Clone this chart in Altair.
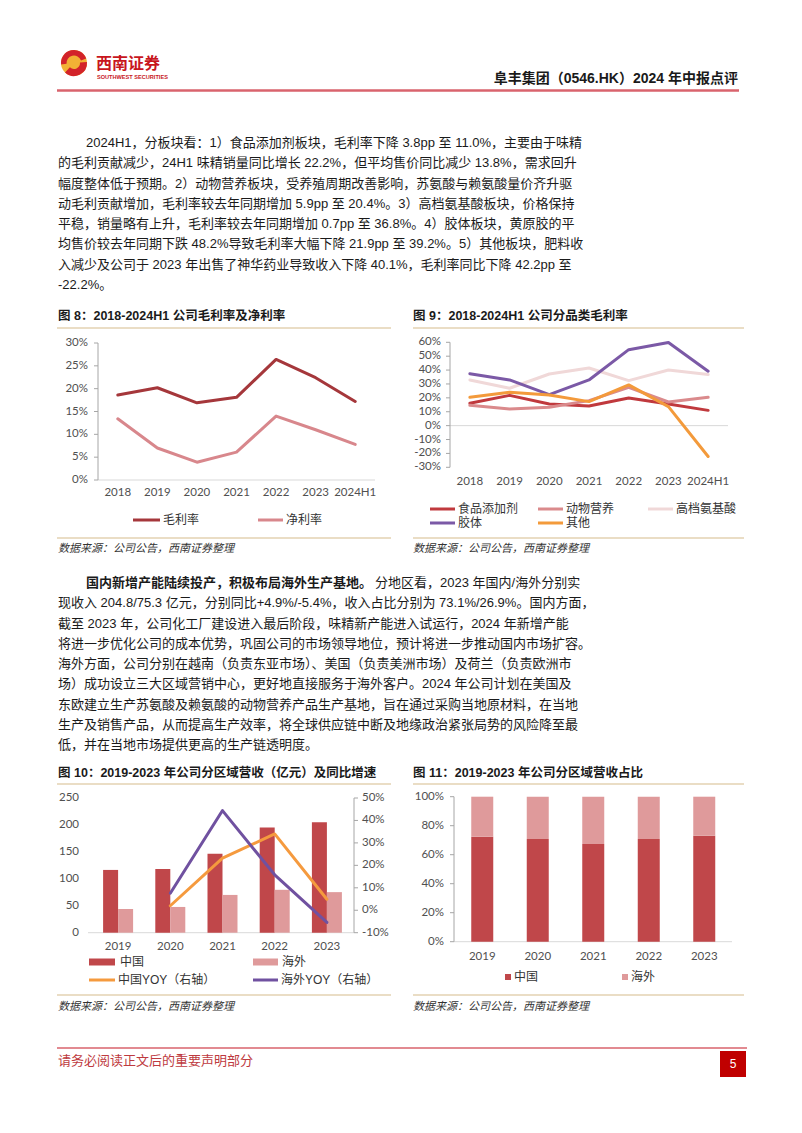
import altair as alt
import pandas as pd

# ---------------- data ----------------
years_a = ["2018", "2019", "2020", "2021", "2022", "2023", "2024H1"]
gross_margin = [0.186, 0.202, 0.169, 0.181, 0.264, 0.224, 0.172]
net_margin = [0.134, 0.070, 0.039, 0.061, 0.140, 0.110, 0.078]
margin_ticks = [0, 0.05, 0.10, 0.15, 0.20, 0.25, 0.30]
margin_tick_labels = ["0%", "5%", "10%", "15%", "20%", "25%", "30%"]

segments = ["食品添加剂", "动物营养", "高档氨基酸", "胶体", "其他"]
seg_food = [0.161, 0.218, 0.156, 0.142, 0.199, 0.156, 0.110]
seg_animal = [0.146, 0.120, 0.132, 0.180, 0.276, 0.170, 0.204]
seg_amino = [0.329, 0.269, 0.372, 0.415, 0.324, 0.401, 0.368]
seg_colloid = [0.374, 0.329, 0.223, 0.329, 0.547, 0.598, 0.392]
seg_other = [0.204, 0.240, 0.221, 0.173, 0.293, 0.137, -0.222]
seg_ticks = [-0.3, -0.2, -0.1, 0, 0.1, 0.2, 0.3, 0.4, 0.5, 0.6]
seg_tick_labels = ["-30%", "-20%", "-10%", "0%", "10%", "20%", "30%", "40%", "50%", "60%"]

years_b = ["2019", "2020", "2021", "2022", "2023"]
rev_china = [116.5, 118.4, 146.3, 195.2, 204.8]
rev_overseas = [44.0, 47.8, 70.1, 79.6, 75.3]
yoy_china = [None, 0.020, 0.232, 0.340, 0.049]
yoy_overseas = [None, 0.076, 0.444, 0.158, -0.054]
rev_ticks = [0, 50, 100, 150, 200, 250]
rev_tick_labels = ["0", "50", "100", "150", "200", "250"]
yoy_ticks = [-0.1, 0, 0.1, 0.2, 0.3, 0.4, 0.5]
yoy_tick_labels = ["-10%", "0%", "10%", "20%", "30%", "40%", "50%"]

share_china = [0.724, 0.708, 0.674, 0.708, 0.731]
share_overseas = [0.276, 0.292, 0.326, 0.292, 0.269]
share_ticks = [0, 0.2, 0.4, 0.6, 0.8, 1.0]
share_tick_labels = ["0%", "20%", "40%", "60%", "80%", "100%"]

para1_first = "2024H1，分板块看：1）食品添加剂板块，毛利率下降 3.8pp 至 11.0%，主要由于味精"
para1 = [
    "的毛利贡献减少，24H1 味精销量同比增长 22.2%，但平均售价同比减少 13.8%，需求回升",
    "幅度整体低于预期。2）动物营养板块，受养殖周期改善影响，苏氨酸与赖氨酸量价齐升驱",
    "动毛利贡献增加，毛利率较去年同期增加 5.9pp 至 20.4%。3）高档氨基酸板块，价格保持",
    "平稳，销量略有上升，毛利率较去年同期增加 0.7pp 至 36.8%。4）胶体板块，黄原胶的平",
    "均售价较去年同期下跌 48.2%导致毛利率大幅下降 21.9pp 至 39.2%。5）其他板块，肥料收",
    "入减少及公司于 2023 年出售了神华药业导致收入下降 40.1%，毛利率同比下降 42.2pp 至",
    "-22.2%。",
]
para2_bold = "国内新增产能陆续投产，积极布局海外生产基地。"
para2_first = "分地区看，2023 年国内/海外分别实"
para2 = [
    "现收入 204.8/75.3 亿元，分别同比+4.9%/-5.4%，收入占比分别为 73.1%/26.9%。国内方面，",
    "截至 2023 年，公司化工厂建设进入最后阶段，味精新产能进入试运行，2024 年新增产能",
    "将进一步优化公司的成本优势，巩固公司的市场领导地位，预计将进一步推动国内市场扩容。",
    "海外方面，公司分别在越南（负责东亚市场）、美国（负责美洲市场）及荷兰（负责欧洲市",
    "场）成功设立三大区域营销中心，更好地直接服务于海外客户。2024 年公司计划在美国及",
    "东欧建立生产苏氨酸及赖氨酸的动物营养产品生产基地，旨在通过采购当地原材料，在当地",
    "生产及销售产品，从而提高生产效率，将全球供应链中断及地缘政治紧张局势的风险降至最",
    "低，并在当地市场提供更高的生产链透明度。",
]

# ---------------- styling ----------------
FONT = "Liberation Sans, Noto Sans CJK SC"
NUMFONT = "Lato, Noto Sans CJK SC"
INK = "#1a1a1a"
LBL = "#505050"
AX = "#a6a6a6"
BASE = "#d9d9d9"
GOLD = "#d6bb8c"
RED_LINE = "#d9636d"

C_GROSS, C_NET = "#a5373b", "#d8878c"
C_SEG = ["#c0393d", "#da8a8c", "#f0d8d8", "#7b59a6", "#f39a3b"]
C_CN, C_OS = "#c0474a", "#df9a9b"
C_CNY, C_OSY = "#f59a3e", "#7051a0"

ONE = pd.DataFrame({"k": [0]})


def P(v):
    return v - 8


def text(s, x, y, size=13, color=INK, weight="normal", style="normal", align="left", font=FONT):
    return alt.Chart(pd.DataFrame({"t": [s]})).mark_text(
        align=align, baseline="middle", fontSize=size, font=font,
        fontWeight=weight, fontStyle=style, color=color
    ).encode(x=alt.value(P(x)), y=alt.value(P(y)), text="t:N")


def hrule(x1, x2, y, color, w=1.0):
    return alt.Chart(ONE).mark_rule(color=color, strokeWidth=w).encode(
        x=alt.value(P(x1)), x2=alt.value(P(x2)), y=alt.value(P(y)))


def vrule(x, y1, y2, color, w=1.0):
    return alt.Chart(ONE).mark_rule(color=color, strokeWidth=w).encode(
        x=alt.value(P(x)), y=alt.value(P(y1)), y2=alt.value(P(y2)))


def box(x1, x2, y1, y2, color):
    return alt.Chart(ONE).mark_rect(color=color).encode(
        x=alt.value(P(x1)), x2=alt.value(P(x2)), y=alt.value(P(y1)), y2=alt.value(P(y2)))


def paragraph(lines, x, y_first, y_last, size=13):
    df = pd.DataFrame({"t": lines, "i": list(range(len(lines)))})
    return alt.Chart(df).mark_text(
        align="left", baseline="middle", fontSize=size, font=FONT, color=INK
    ).encode(
        x=alt.value(P(x)),
        y=alt.Y("i:Q", scale=alt.Scale(domain=[0, len(lines) - 1], range=[P(y_first), P(y_last)],
                                         nice=False, zero=False), axis=None),
        text="t:N")


def lin(d0, d1, r0, r1):
    return alt.Scale(domain=[d0, d1], range=[P(r0), P(r1)], nice=False, zero=False)


def series_line(cats, vals, xs, ys, color, w=3.0):
    df = pd.DataFrame({"c": cats, "v": vals})
    return alt.Chart(df).mark_line(color=color, strokeWidth=w, strokeJoin="round", strokeCap="round").encode(
        x=alt.X("c:O", scale=xs, axis=None), y=alt.Y("v:Q", scale=ys, axis=None))


def ylabels(vals, labels, ys, x, align="right"):
    df = pd.DataFrame({"v": vals, "t": labels})
    return alt.Chart(df).mark_text(align=align, baseline="middle", fontSize=11.5, font=NUMFONT, color=LBL).encode(
        x=alt.value(P(x)), y=alt.Y("v:Q", scale=ys, axis=None), text="t:N")


def yticks(vals, ys, x1, x2):
    df = pd.DataFrame({"v": vals})
    return alt.Chart(df).mark_rule(color=AX, strokeWidth=1).encode(
        x=alt.value(P(x1)), x2=alt.value(P(x2)), y=alt.Y("v:Q", scale=ys, axis=None))


def zero_line(ys, x1, x2, color=BASE):
    return alt.Chart(pd.DataFrame({"v": [0]})).mark_rule(color=color, strokeWidth=1).encode(
        x=alt.value(P(x1)), x2=alt.value(P(x2)), y=alt.Y("v:Q", scale=ys, axis=None))


def xlabels(cats, xs, y):
    df = pd.DataFrame({"c": cats})
    return alt.Chart(df).mark_text(baseline="middle", fontSize=11.5, font=NUMFONT, color=LBL).encode(
        x=alt.X("c:O", scale=xs, axis=None), y=alt.value(P(y)), text="c:N")


def legend_line(x1, x2, y, color, label, w=3.0):
    return [hrule(x1, x2, y, color, w), text(label, x2 + 3, y, size=12, color="#333333")]


def legend_box(x1, x2, y1, y2, color, label, tx):
    return [box(x1, x2, y1, y2, color), text(label, tx, (y1 + y2) / 2, size=12, color="#333333")]


L = []

# ---------------- header ----------------
L.append(alt.Chart(ONE).mark_arc(color="#f2b135").encode(
    x=alt.value(P(74)), y=alt.value(P(63)), theta=alt.value(0), theta2=alt.value(6.2832),
    radius=alt.value(13), radius2=alt.value(0)))
L.append(alt.Chart(ONE).mark_arc(color="#d2232a").encode(
    x=alt.value(P(74)), y=alt.value(P(63)), theta=alt.value(4.6), theta2=alt.value(7.5),
    radius=alt.value(13), radius2=alt.value(7.5)))
L.append(alt.Chart(ONE).mark_arc(color="#d2232a").encode(
    x=alt.value(P(74)), y=alt.value(P(63)), theta=alt.value(1.5), theta2=alt.value(3.9),
    radius=alt.value(13), radius2=alt.value(6)))
L.append(text("西南证券", 96, 64, size=16, color="#c8161d", weight="bold", font="Noto Sans CJK SC"))
L.append(text("SOUTHWEST SECURITIES", 97, 77, size=5.6, color="#c8161d", weight="bold"))
L.append(text("阜丰集团（0546.HK）2024 年中报点评", 738, 79, size=14, weight="bold", align="right"))
L.append(hrule(57, 739, 90.5, RED_LINE, 2.5))

# ---------------- paragraph 1 ----------------
L.append(text(para1_first, 86, 143))
L.append(paragraph(para1, 58, 163.3, 285))

# ---------------- figure titles & frames (top) ----------------
L.append(text("图 8：2018-2024H1 公司毛利率及净利率", 58, 316, size=12.5, weight="bold"))
L.append(text("图 9：2018-2024H1 公司分品类毛利率", 413, 316, size=12.5, weight="bold"))
L.append(hrule(57, 391, 328, GOLD, 1.2))
L.append(hrule(413, 744, 328, GOLD, 1.2))
L.append(hrule(57, 391, 538, GOLD, 1.2))
L.append(hrule(413, 744, 538, GOLD, 1.2))
L.append(text("数据来源：公司公告，西南证券整理", 58, 549, size=11, style="italic", color="#333333"))
L.append(text("数据来源：公司公告，西南证券整理", 413, 549, size=11, style="italic", color="#333333"))

# ---------------- chart 8 ----------------
x8 = alt.Scale(type="point", domain=years_a, range=[P(98), P(375)], padding=0.5)
y8 = lin(0, 0.30, 480, 343)
L.append(zero_line(y8, 98, 375))
L.append(vrule(98, 343, 480, AX))
L.append(yticks(margin_ticks, y8, 94, 98))
L.append(ylabels(margin_ticks, margin_tick_labels, y8, 88))
L.append(xlabels(years_a, x8, 493))
L.append(series_line(years_a, gross_margin, x8, y8, C_GROSS))
L.append(series_line(years_a, net_margin, x8, y8, C_NET))
L += legend_line(133, 160, 520, C_GROSS, "毛利率")
L += legend_line(258, 283, 520, C_NET, "净利率")

# ---------------- chart 9 ----------------
x9 = alt.Scale(type="point", domain=years_a, range=[P(450), P(728)], padding=0.5)
y9 = lin(-0.3, 0.6, 467.3, 342.3)
L.append(zero_line(y9, 450, 728))
L.append(vrule(450, 342.3, 467.3, AX))
L.append(yticks(seg_ticks, y9, 446, 450))
L.append(ylabels(seg_ticks, seg_tick_labels, y9, 441))
L.append(xlabels(years_a, x9, 482))
for vals, col in zip([seg_food, seg_animal, seg_amino, seg_colloid, seg_other], C_SEG):
    L.append(series_line(years_a, vals, x9, y9, col))
L += legend_line(430, 455, 509, C_SEG[0], segments[0])
L += legend_line(538, 563, 509, C_SEG[1], segments[1])
L += legend_line(648, 673, 509, C_SEG[2], segments[2])
L += legend_line(430, 455, 523, C_SEG[3], segments[3])
L += legend_line(538, 563, 523, C_SEG[4], segments[4])

# ---------------- paragraph 2 ----------------
L.append(text(para2_bold, 86, 583, weight="bold"))
L.append(text(para2_first, 375, 583))
L.append(paragraph(para2, 58, 603.3, 745))

# ---------------- figure titles & frames (bottom) ----------------
L.append(text("图 10：2019-2023 年公司分区域营收（亿元）及同比增速", 58, 773, size=12.5, weight="bold"))
L.append(text("图 11：2019-2023 年公司分区域营收占比", 413, 773, size=12.5, weight="bold"))
L.append(hrule(57, 391, 784, GOLD, 1.2))
L.append(hrule(413, 744, 784, GOLD, 1.2))
L.append(hrule(57, 391, 995, GOLD, 1.2))
L.append(hrule(413, 744, 995, GOLD, 1.2))
L.append(text("数据来源：公司公告，西南证券整理", 58, 1007, size=11, style="italic", color="#333333"))
L.append(text("数据来源：公司公告，西南证券整理", 413, 1007, size=11, style="italic", color="#333333"))

# ---------------- chart 10 ----------------
x10 = alt.Scale(type="band", domain=years_b, range=[P(92), P(353)], paddingInner=0.4, paddingOuter=0.2)
y10 = lin(0, 250, 932.7, 798)
y10r = lin(-0.1, 0.5, 932.7, 798)
L.append(zero_line(y10, 88, 354))
L.append(vrule(354, 798, 932.7, AX))
L.append(yticks(yoy_ticks, y10r, 354, 358))
L.append(ylabels(rev_ticks, rev_tick_labels, y10, 79))
L.append(ylabels(yoy_ticks, yoy_tick_labels, y10r, 362, align="left"))
L.append(xlabels(years_b, x10, 947))
L.append(alt.Chart(pd.DataFrame({"c": years_b, "v": rev_china})).mark_bar(
    width=15, xOffset=-7.5, color=C_CN).encode(
    x=alt.X("c:O", scale=x10, axis=None), y=alt.Y("v:Q", scale=y10, axis=None)))
L.append(alt.Chart(pd.DataFrame({"c": years_b, "v": rev_overseas})).mark_bar(
    width=15, xOffset=7.5, color=C_OS).encode(
    x=alt.X("c:O", scale=x10, axis=None), y=alt.Y("v:Q", scale=y10, axis=None)))
L.append(series_line(years_b, yoy_china, x10, y10r, C_CNY))
L.append(series_line(years_b, yoy_overseas, x10, y10r, C_OSY))
L += legend_box(89, 115, 958.5, 965.5, C_CN, "中国", 120)
L += legend_box(253, 278, 958.5, 965.5, C_OS, "海外", 282)
L += legend_line(89, 115, 980, C_CNY, "中国YOY（右轴）")
L += legend_line(253, 278, 980, C_OSY, "海外YOY（右轴）")

# ---------------- chart 11 ----------------
x11 = alt.Scale(type="band", domain=years_b, range=[P(454.5), P(732)], paddingInner=0.4, paddingOuter=0.2)
y11 = lin(0, 1.0, 941.7, 796.7)
L.append(zero_line(y11, 454, 732))
L.append(vrule(454, 796.7, 941.7, AX))
L.append(yticks(share_ticks, y11, 450, 454))
L.append(ylabels(share_ticks, share_tick_labels, y11, 444))
L.append(xlabels(years_b, x11, 957))
df11 = pd.DataFrame({
    "c": years_b * 2,
    "v": share_china + share_overseas,
    "k": ["中国"] * 5 + ["海外"] * 5,
    "o": [0] * 5 + [1] * 5,
})
L.append(alt.Chart(df11).mark_bar(width=22).encode(
    x=alt.X("c:O", scale=x11, axis=None),
    y=alt.Y("v:Q", scale=y11, axis=None, stack="zero"),
    color=alt.Color("k:N", scale=alt.Scale(domain=["中国", "海外"], range=[C_CN, C_OS]), legend=None),
    order=alt.Order("o:Q")))
L += legend_box(505, 511, 974, 980, C_CN, "中国", 514)
L += legend_box(622, 628, 974, 980, C_OS, "海外", 631)

# ---------------- footer ----------------
L.append(hrule(57, 747, 1048, RED_LINE, 1.5))
L.append(text("请务必阅读正文后的重要声明部分", 58, 1061, size=13, color="#be3a40"))
L.append(box(720, 746, 1051, 1077, "#c00000"))
L.append(text("5", 733, 1064, size=12, color="white", align="center"))

chart = alt.layer(*L).resolve_scale(
    x="independent", y="independent", color="independent"
).properties(
    width=786, height=1117, padding=0,
    autosize=alt.AutoSizeParams(type="none"), background="white"
).configure_view(stroke=None)

chart.save("out.html", embed_options={"renderer": "svg", "actions": False})
